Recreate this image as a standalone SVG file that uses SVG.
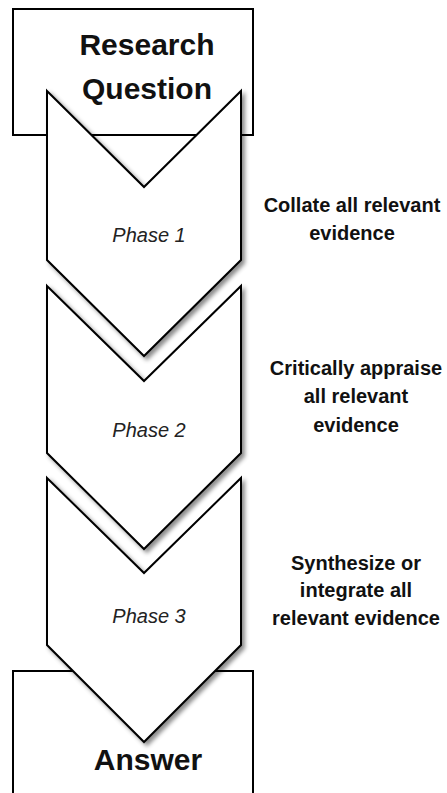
<svg xmlns="http://www.w3.org/2000/svg" width="447" height="793" viewBox="0 0 447 793">
<defs>
<filter id="sh" x="-10%" y="-10%" width="130%" height="130%">
<feDropShadow dx="3" dy="3" stdDeviation="2.2" flood-color="#000" flood-opacity="0.45"/>
</filter>
<style>
.box{fill:#fff;stroke:#000;stroke-width:2}
.chev{fill:#fff;stroke:#000;stroke-width:2;stroke-linejoin:miter;filter:url(#sh)}
.big{font-family:"Liberation Sans",Arial,sans-serif;font-weight:bold;font-size:30px;fill:#111;text-anchor:middle}
.ph{font-family:"Liberation Sans",Arial,sans-serif;font-style:italic;font-size:20px;fill:#222;text-anchor:middle}
.side{font-family:"Liberation Sans",Arial,sans-serif;font-weight:bold;font-size:20px;fill:#111;text-anchor:middle}
</style>
</defs>
<rect width="447" height="793" fill="#fff"/>
<g id="research-question">
<rect class="box" x="13" y="9" width="240" height="126"/>
<text class="big" x="147" y="55">Research</text>
<text class="big" x="147" y="99">Question</text>
</g>
<g id="answer">
<path class="box" d="M13,795 V671 H253 V795"/>
<text class="big" x="148" y="770">Answer</text>
</g>
<g id="phase1">
<polygon class="chev" points="47,91 144,187 241,91 241,260 144,356 47,260"/>
<text class="ph" x="149" y="242">Phase 1</text>
</g>
<g id="phase2">
<polygon class="chev" points="47,286 144,381 241,286 241,453 144,549 47,453"/>
<text class="ph" x="149" y="437">Phase 2</text>
</g>
<g id="phase3">
<polygon class="chev" points="47,478 144,573 241,478 241,645 144,742 47,645"/>
<text class="ph" x="149" y="623">Phase 3</text>
</g>
<g id="connectors"></g>
<g id="labels">
<text class="side" x="352" y="212">Collate all relevant</text>
<text class="side" x="352" y="240">evidence</text>
<text class="side" x="356" y="375">Critically appraise</text>
<text class="side" x="356" y="403">all relevant</text>
<text class="side" x="356" y="432">evidence</text>
<text class="side" x="356" y="570">Synthesize or</text>
<text class="side" x="356" y="597">integrate all</text>
<text class="side" x="356" y="625">relevant evidence</text>
</g>
</svg>
